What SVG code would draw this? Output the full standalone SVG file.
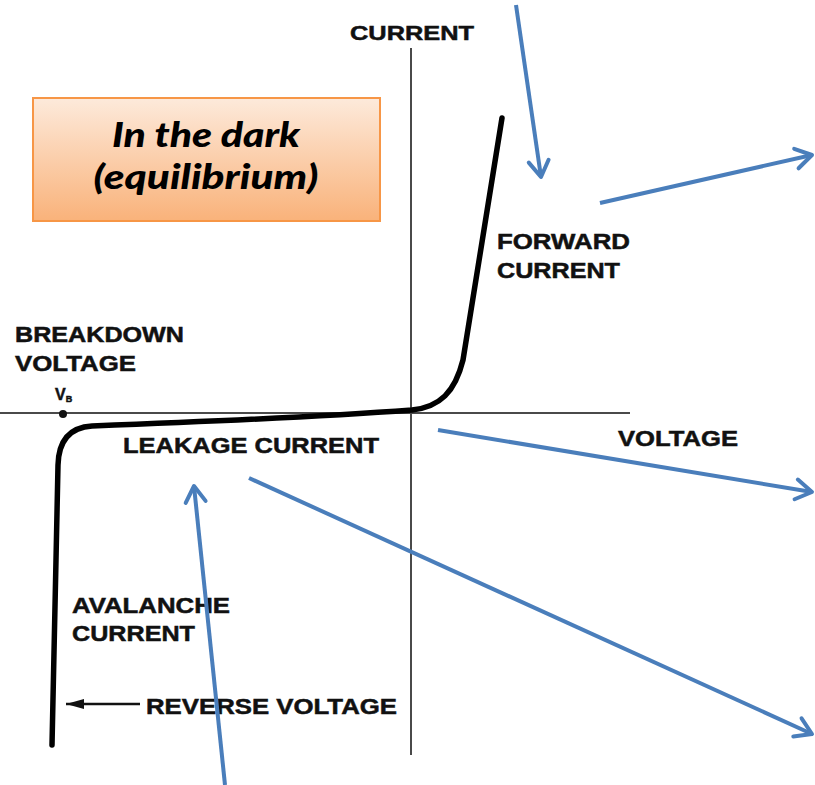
<svg xmlns="http://www.w3.org/2000/svg" width="815" height="785" viewBox="0 0 815 785">
  <style>
    .lbl { font-family: "Liberation Sans", Arial, sans-serif; font-weight: bold; fill: #111; stroke: #111; stroke-width: 0.5; }
    .axis { stroke: #4a4a4a; stroke-width: 2; fill: none; }
    .curve { stroke: #000; stroke-width: 5.5; fill: none; stroke-linecap: round; stroke-linejoin: round; }
    .conn { stroke: #4a7ebb; stroke-width: 4; fill: none; }
    .title { font-family: Lato, "Liberation Sans", sans-serif; font-weight: 900; font-style: italic; font-size: 34px; fill: #000; }
  </style>
  <defs>
    <linearGradient id="boxFill" x1="0" y1="0" x2="0" y2="1">
      <stop offset="0" stop-color="#fdeadb"/>
      <stop offset="1" stop-color="#f9b27a"/>
    </linearGradient>
    <marker id="chevron" markerUnits="userSpaceOnUse" markerWidth="40" markerHeight="40" viewBox="-20 -20 40 40" refX="0" refY="0" orient="auto" overflow="visible">
      <path d="M-16,-10 L0,0 L-16,10" fill="none" stroke="#4a7ebb" stroke-width="4" stroke-linecap="round" stroke-linejoin="round"/>
    </marker>
    <marker id="smallHead" markerUnits="userSpaceOnUse" markerWidth="20" markerHeight="20" viewBox="-20 -10 20 20" refX="0" refY="0" orient="auto" overflow="visible">
      <path d="M0,0 L-18,-5 L-18,5 Z" fill="#111"/>
    </marker>
  </defs>

  <rect width="815" height="785" fill="#fff"/>

  <!-- axes -->
  <g id="axes">
    <line class="axis" x1="0" y1="413" x2="630" y2="413"/>
    <line class="axis" x1="411" y1="48" x2="411" y2="755"/>
    <circle cx="63" cy="414" r="4" fill="#111"/>
  </g>

  <!-- diode I-V characteristic -->
  <g id="iv-curve">
    <path class="curve" d="M52,745 L56,560 L58,465 Q59,428 92,426 C200,422 330,416 412,410 C440,407 455,392 463,360 L502,118"/>
  </g>

  <!-- axis and region labels -->
  <g id="label-current"><text class="lbl" x="350" y="40" font-size="21" textLength="124" lengthAdjust="spacingAndGlyphs">CURRENT</text></g>
  <g id="label-forward">
    <text class="lbl" x="497" y="249" font-size="22" textLength="133" lengthAdjust="spacingAndGlyphs">FORWARD</text>
    <text class="lbl" x="497" y="278" font-size="22" textLength="123" lengthAdjust="spacingAndGlyphs">CURRENT</text>
  </g>
  <g id="label-breakdown">
    <text class="lbl" x="15" y="342" font-size="22" textLength="169" lengthAdjust="spacingAndGlyphs">BREAKDOWN</text>
    <text class="lbl" x="15" y="371" font-size="22" textLength="121" lengthAdjust="spacingAndGlyphs">VOLTAGE</text>
    <text class="lbl" x="55" y="400" font-size="16" stroke-width="0.3">V<tspan font-size="9" dy="2">B</tspan></text>
  </g>
  <g id="label-voltage"><text class="lbl" x="618" y="446" font-size="22" textLength="120" lengthAdjust="spacingAndGlyphs">VOLTAGE</text></g>
  <g id="label-leakage"><text class="lbl" x="123" y="453" font-size="22" textLength="256" lengthAdjust="spacingAndGlyphs">LEAKAGE CURRENT</text></g>
  <g id="label-avalanche">
    <text class="lbl" x="72" y="613" font-size="22" textLength="158" lengthAdjust="spacingAndGlyphs">AVALANCHE</text>
    <text class="lbl" x="72" y="641" font-size="22" textLength="123" lengthAdjust="spacingAndGlyphs">CURRENT</text>
  </g>
  <g id="label-reverse">
    <line x1="140" y1="704" x2="66" y2="704" stroke="#111" stroke-width="2.5" marker-end="url(#smallHead)"/>
    <text class="lbl" x="146" y="714" font-size="22" textLength="251" lengthAdjust="spacingAndGlyphs">REVERSE VOLTAGE</text>
  </g>

  <!-- condition box -->
  <g id="condition-box">
    <rect x="33" y="98" width="347" height="123" fill="url(#boxFill)" stroke="#f79646" stroke-width="2"/>
    <text class="title" x="206" y="147" text-anchor="middle" textLength="188" lengthAdjust="spacingAndGlyphs">In the dark</text>
    <text class="title" x="206" y="189" text-anchor="middle" textLength="225" lengthAdjust="spacingAndGlyphs">(equilibrium)</text>
  </g>

  <!-- connectors -->
  <g id="connectors">
    <line class="conn" x1="516" y1="5" x2="541" y2="177" marker-end="url(#chevron)"/>
    <line class="conn" x1="600" y1="203" x2="812" y2="155" marker-end="url(#chevron)"/>
    <line class="conn" x1="438" y1="430" x2="812" y2="492" marker-end="url(#chevron)"/>
    <line class="conn" x1="249" y1="478" x2="812" y2="734" marker-end="url(#chevron)"/>
    <line class="conn" x1="225" y1="785" x2="194" y2="486" marker-end="url(#chevron)"/>
  </g>
</svg>
